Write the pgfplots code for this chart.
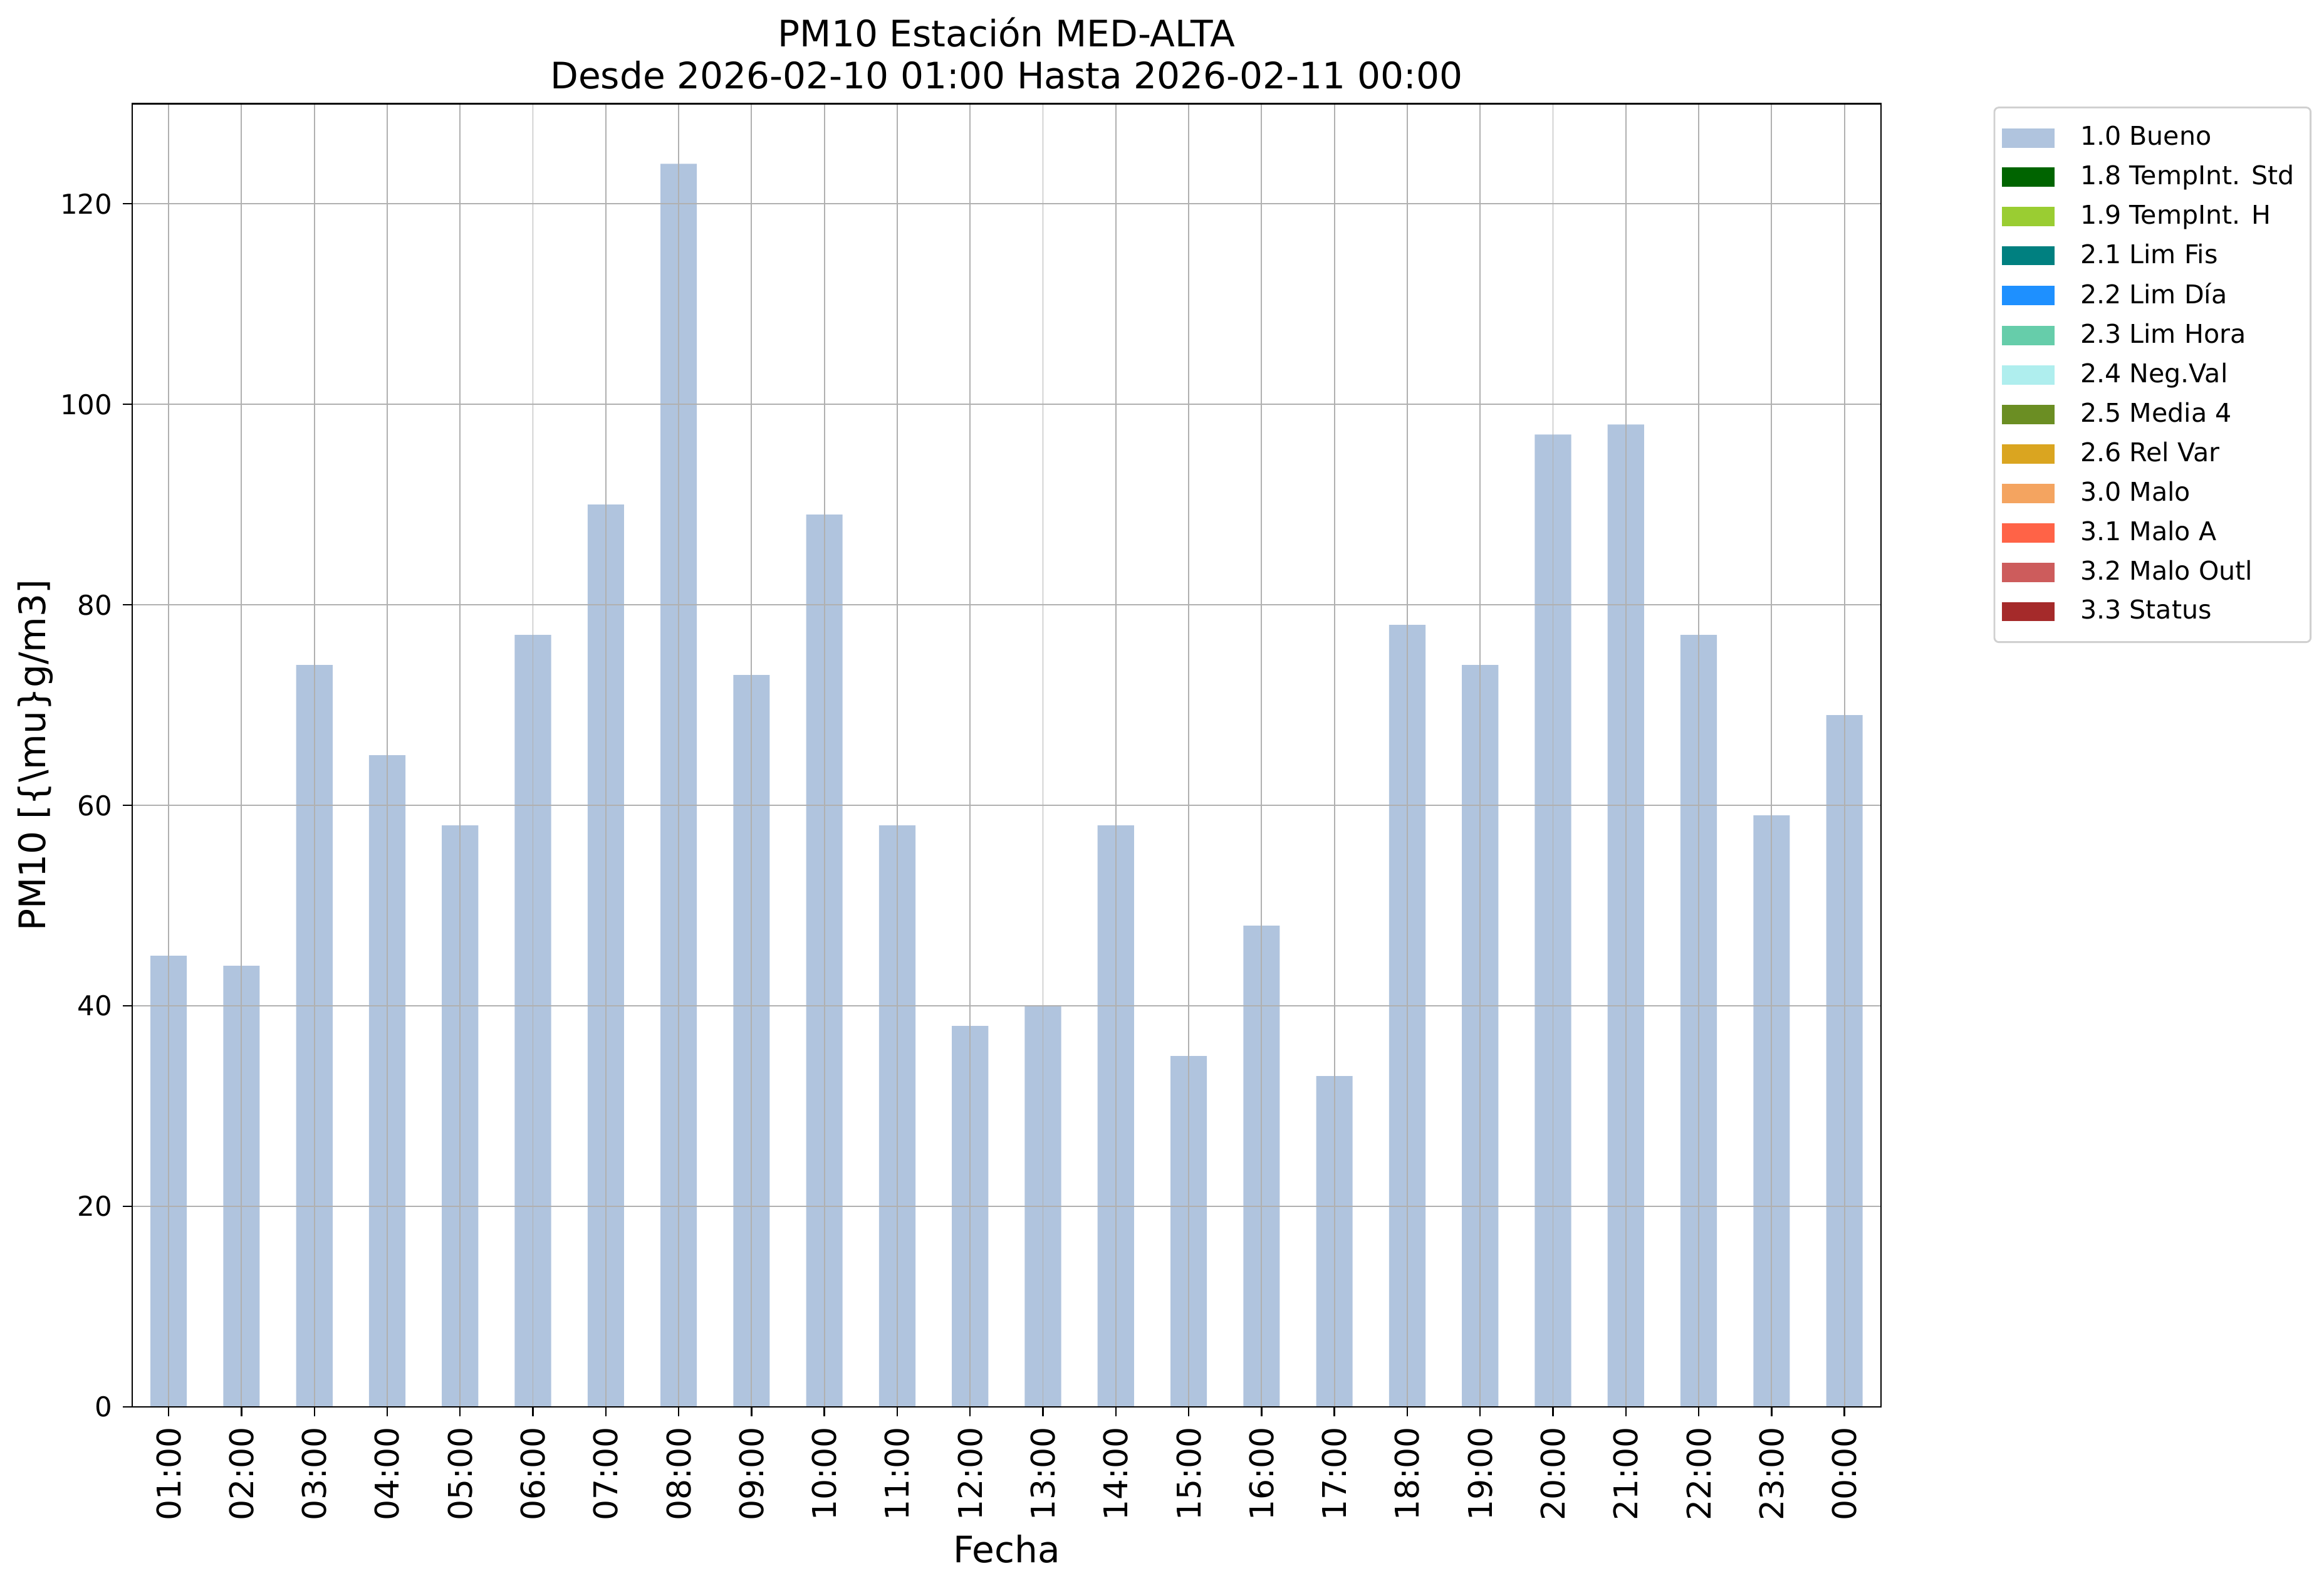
\documentclass[border=0pt]{standalone}
\usepackage{pgfplots}
\pgfplotsset{compat=1.18}
\usepackage{fontspec}
\setmainfont{DejaVu Sans}
\definecolor{bueno}{HTML}{B0C4DE}
\definecolor{c18}{HTML}{006400}
\definecolor{c19}{HTML}{9ACD32}
\definecolor{c21}{HTML}{008080}
\definecolor{c22}{HTML}{1E90FF}
\definecolor{c23}{HTML}{66CDAA}
\definecolor{c24}{HTML}{AFEEEE}
\definecolor{c25}{HTML}{6B8E23}
\definecolor{c26}{HTML}{DAA520}
\definecolor{c30}{HTML}{F4A460}
\definecolor{c31}{HTML}{FF6347}
\definecolor{c32}{HTML}{CD5C5C}
\definecolor{c33}{HTML}{A52A2A}
\definecolor{gridc}{HTML}{B0B0B0}
\begin{document}
\begin{tikzpicture}
\path[use as bounding box] (-44.6pt,-60.95pt) rectangle (739.4pt,474.55pt);
\begin{axis}[
  scale only axis,
  width=589.9pt, height=439.6pt,
  at={(0pt,0pt)}, anchor=south west,
  xmin=-0.5, xmax=23.5, ymin=0, ymax=130,
  xtick={0,...,23},
  xticklabels={01:00,02:00,03:00,04:00,05:00,06:00,07:00,08:00,09:00,10:00,11:00,12:00,13:00,14:00,15:00,16:00,17:00,18:00,19:00,20:00,21:00,22:00,23:00,00:00},
  ytick={0,20,40,60,80,100,120},
  /pgf/number format/assume math mode=true,
  xticklabel style={rotate=90, anchor=east, font=\fontsize{11}{13}\selectfont},
  yticklabel style={font=\fontsize{9.2}{11}\selectfont},
  tick align=outside,
  major tick length=3.2pt,
  xtick pos=bottom, ytick pos=left,
  grid=major,
  major grid style={gridc, line width=0.4pt},
  axis line style={line width=0.5pt},
  every tick/.style={black, line width=0.5pt},
  axis on top,
  xlabel={Fecha},
  ylabel={PM10 [\{\textbackslash mu\}g/m3]},
  xlabel style={font=\fontsize{12.3}{14}\selectfont, at={(axis description cs:0.5,-0.109)}, anchor=center},
  ylabel style={font=\fontsize{12.3}{14}\selectfont, at={(axis description cs:-0.0553,0.5)}, anchor=center},
  title={PM10 Estación MED-ALTA\\Desde 2026-02-10 01:00 Hasta 2026-02-11 00:00},
  title style={font=\fontsize{12.3}{14}\selectfont, align=center, at={(axis description cs:0.5,1.0249)}, anchor=center},
  legend style={at={(axis description cs:1.0644,0.9977)}, anchor=north west,
    draw=gridc!60, rounded corners=1.5pt, line width=0.6pt,
    font=\fontsize{8.7}{10}\selectfont, inner xsep=2.5pt, inner ysep=4.3pt,
    row sep=1.2pt,
    nodes={inner xsep=3pt},
    /tikz/every even column/.append style={column sep=0pt}},
  legend cell align=left,
  legend image code/.code={\fill[#1, draw=none, sharp corners] (0pt,-3.25pt) rectangle (17.75pt,3.25pt); \path (23.5pt,0pt);},
]
\addplot[ybar, bar width=0.5, fill=bueno, draw=none, forget plot] coordinates {
(0,45) (1,44) (2,74) (3,65) (4,58) (5,77) (6,90) (7,124) (8,73) (9,89) (10,58) (11,38)
(12,40) (13,58) (14,35) (15,48) (16,33) (17,78) (18,74) (19,97) (20,98) (21,77) (22,59) (23,69)
};
\addlegendimage{fill=bueno, draw=none}\addlegendentry{1.0 Bueno}
\addlegendimage{fill=c18, draw=none}\addlegendentry{1.8 TempInt. Std}
\addlegendimage{fill=c19, draw=none}\addlegendentry{1.9 TempInt. H}
\addlegendimage{fill=c21, draw=none}\addlegendentry{2.1 Lim Fis}
\addlegendimage{fill=c22, draw=none}\addlegendentry{2.2 Lim Día}
\addlegendimage{fill=c23, draw=none}\addlegendentry{2.3 Lim Hora}
\addlegendimage{fill=c24, draw=none}\addlegendentry{2.4 Neg.Val}
\addlegendimage{fill=c25, draw=none}\addlegendentry{2.5 Media 4}
\addlegendimage{fill=c26, draw=none}\addlegendentry{2.6 Rel Var}
\addlegendimage{fill=c30, draw=none}\addlegendentry{3.0 Malo}
\addlegendimage{fill=c31, draw=none}\addlegendentry{3.1 Malo A}
\addlegendimage{fill=c32, draw=none}\addlegendentry{3.2 Malo Outl}
\addlegendimage{fill=c33, draw=none}\addlegendentry{3.3 Status}
\end{axis}
\end{tikzpicture}
\end{document}
